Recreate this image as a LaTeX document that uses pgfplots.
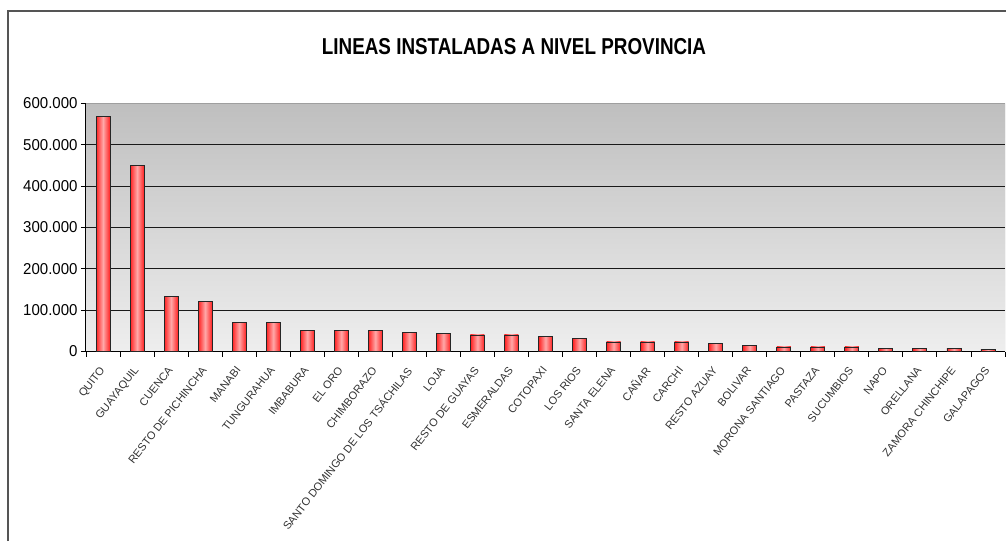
\documentclass[border=0pt]{standalone}
\usepackage{fontspec}
\setmainfont{Liberation Sans}
\usepackage{pgfplots}
\pgfplotsset{compat=1.18}
\definecolor{bgtop}{HTML}{BFBFBF}
\definecolor{bgbot}{HTML}{EEEEEE}
\definecolor{barred}{HTML}{FF2020}
\definecolor{barpink}{HTML}{FFA8A8}
\definecolor{framegray}{HTML}{555555}

\begin{document}
\begin{tikzpicture}[x=1pt,y=1pt]
  \useasboundingbox (-86,-189.5) rectangle (920,351.5);
  % outer chart frame (only top and left edges fall inside the picture)
  \draw[framegray, line width=1.3pt] (-78,-189.5) -- (-78,340.5) -- (920,340.5);

  \begin{axis}[
      at={(0,0)}, anchor=south west,
      scale only axis, width=919pt, height=248pt,
      xmin=-0.5, xmax=26.5, ymin=0, ymax=600000,
      axis lines*=left,
      axis line style={black, line width=1pt},
      axis background/.style={top color=bgtop, bottom color=bgbot},
      ybar, bar width=14pt, bar shift=0pt,
      lbar/.style={draw=black!85, line width=0.9pt,
        left color=barred, right color=barred, middle color=barpink},
      xtick={0,...,26},
      xticklabels={QUITO, GUAYAQUIL, CUENCA, RESTO DE PICHINCHA, MANABI,
        TUNGURAHUA, IMBABURA, EL ORO, CHIMBORAZO,
        SANTO DOMINGO DE LOS TSÁCHILAS, LOJA, RESTO DE GUAYAS, ESMERALDAS,
        COTOPAXI, LOS RIOS, SANTA ELENA, CAÑAR, CARCHI, RESTO AZUAY,
        BOLIVAR, MORONA SANTIAGO, PASTAZA, SUCUMBIOS, NAPO, ORELLANA,
        ZAMORA CHINCHIPE, GALAPAGOS},
      major x tick style={draw=none},
      minor xtick={-0.5,0.5,...,26.5},
      minor tick length=5pt,
      ytick={0,100000,...,600000},
      major tick length=5pt,
      tick align=outside,
      tick style={black, line width=0.9pt},
      scaled y ticks=false,
      yticklabel style={font=\fontsize{15}{15}\selectfont, yscale=1.05,
        /pgf/number format/fixed,
        /pgf/number format/1000 sep={.},
        /pgf/number format/assume math mode=true},
      xticklabel style={font=\fontsize{11}{11}\selectfont, text=black!80,
        yshift=-9pt, xshift=-4pt, rotate=52, anchor=north east,
        inner sep=0pt},
      extra y ticks={100000,200000,300000,400000,500000},
      extra y tick labels={},
      extra y tick style={grid=major,
        major grid style={black!90, line width=1.2pt},
        major tick length=0pt},
    ]
    % one plot per province so that each bar gets its own shading
    \addplot[lbar] coordinates {(0,568000)};
    \addplot[lbar] coordinates {(1,450000)};
    \addplot[lbar] coordinates {(2,132000)};
    \addplot[lbar] coordinates {(3,121000)};
    \addplot[lbar] coordinates {(4,71000)};
    \addplot[lbar] coordinates {(5,71000)};
    \addplot[lbar] coordinates {(6,50000)};
    \addplot[lbar] coordinates {(7,50000)};
    \addplot[lbar] coordinates {(8,50000)};
    \addplot[lbar] coordinates {(9,47000)};
    \addplot[lbar] coordinates {(10,44000)};
    \addplot[lbar] coordinates {(11,40000)};
    \addplot[lbar] coordinates {(12,40000)};
    \addplot[lbar] coordinates {(13,36000)};
    \addplot[lbar] coordinates {(14,32000)};
    \addplot[lbar] coordinates {(15,23000)};
    \addplot[lbar] coordinates {(16,23000)};
    \addplot[lbar] coordinates {(17,23000)};
    \addplot[lbar] coordinates {(18,19000)};
    \addplot[lbar] coordinates {(19,15000)};
    \addplot[lbar] coordinates {(20,11000)};
    \addplot[lbar] coordinates {(21,11000)};
    \addplot[lbar] coordinates {(22,11000)};
    \addplot[lbar] coordinates {(23,8000)};
    \addplot[lbar] coordinates {(24,8000)};
    \addplot[lbar] coordinates {(25,8000)};
    \addplot[lbar] coordinates {(26,4000)};
    \draw[gray!75] (rel axis cs:0,1) -- (rel axis cs:1,1);
    \draw[gray!45] (rel axis cs:1,1) -- (rel axis cs:1,0);
  \end{axis}

  \node[font=\bfseries\fontsize{23}{23}\selectfont, xscale=0.82]
    at (428,304.5) {LINEAS INSTALADAS A NIVEL PROVINCIA};
\end{tikzpicture}
\end{document}
